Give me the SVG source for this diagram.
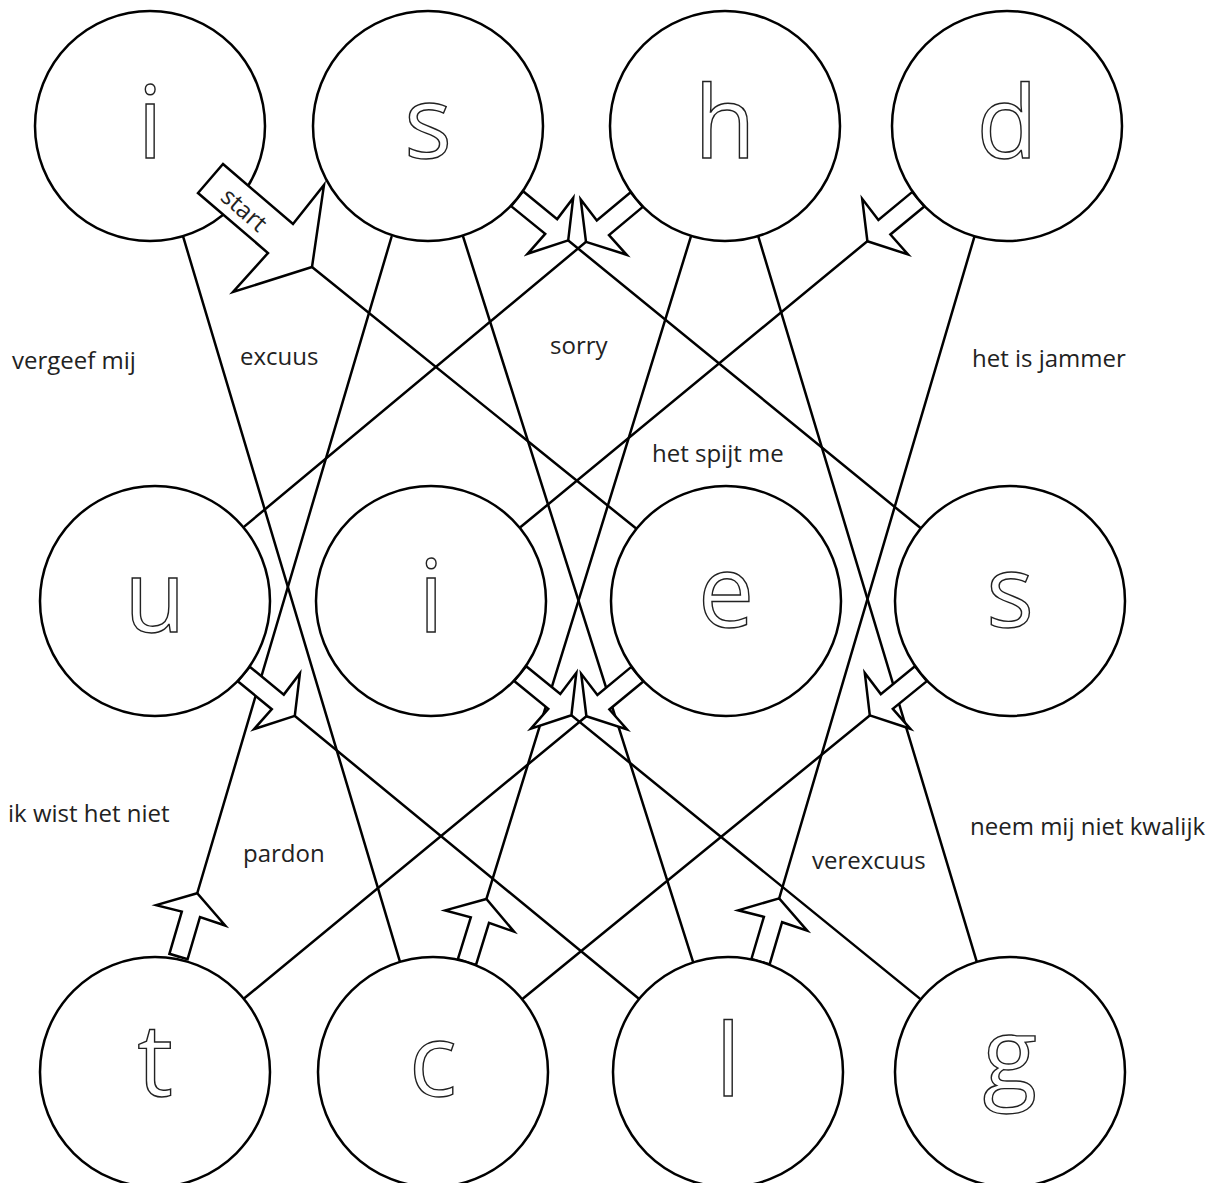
<svg xmlns="http://www.w3.org/2000/svg" width="1218" height="1183" viewBox="0 0 1218 1183">
<style>
.ln{stroke:#000;stroke-width:2.5;fill:none;stroke-linecap:round}
.ar{stroke:#000;stroke-width:2.5;fill:#fff;stroke-linejoin:miter}
.nd circle{stroke:#000;stroke-width:2.5;fill:#fff}
.lt{font-family:"Open Sans",sans-serif;font-size:100px;fill:#fff;stroke:#222;stroke-width:1.4;text-anchor:middle}
.lb{font-family:"Open Sans",sans-serif;font-size:24px;fill:#222}
.st{font-family:"Open Sans",sans-serif;font-size:24px;fill:#222;text-anchor:middle}
</style>
<rect width="1218" height="1183" fill="#fff"/>
<g id="connectors">
<line class="ln" x1="183" y1="236.2" x2="400" y2="961.8"/>
<line class="ln" x1="462.8" y1="235.6" x2="693.2" y2="962.4"/>
<line class="ln" x1="758.2" y1="236.1" x2="976.8" y2="961.9"/>
<line class="ln" x1="178.5" y1="956.5" x2="391.5" y2="237"/>
<line class="ln" x1="466.9" y1="962.1" x2="691.1" y2="235.9"/>
<line class="ln" x1="760.5" y1="961.7" x2="974.5" y2="236.3"/>
<line class="ln" x1="517.1" y1="198.7" x2="920.9" y2="528.3"/>
<line class="ln" x1="636.7" y1="199.6" x2="243.3" y2="527.4"/>
<line class="ln" x1="918.3" y1="199.2" x2="519.7" y2="527.8"/>
<line class="ln" x1="312" y1="267" x2="636.5" y2="528.8"/>
<line class="ln" x1="243.8" y1="674" x2="639.2" y2="999"/>
<line class="ln" x1="520.2" y1="673.6" x2="920.8" y2="999.4"/>
<line class="ln" x1="637.3" y1="674.2" x2="243.7" y2="998.8"/>
<line class="ln" x1="920.9" y1="673.7" x2="522.1" y2="999.3"/>
<polygon class="ar" points="169.4,953.8 181.8,911.6 156.2,905.1 197.2,893.2 225.2,925.5 200,917 187.6,959.2"/>
<polygon class="ar" points="457.8,959.3 470.8,917.3 445.2,910.4 486.4,899 514,931.6 489,922.9 476,964.9"/>
<polygon class="ar" points="751.4,959 763.9,916.8 738.2,910.3 779.2,898.4 807.2,930.7 782.1,922.2 769.6,964.4"/>
<polygon class="ar" points="523.1,191.3 557.2,219.1 573.2,198 568.2,240.4 527.6,253.8 545.2,233.9 511.1,206.1"/>
<polygon class="ar" points="642.8,206.9 609,235.1 626.7,254.8 586,241.9 580.7,199.4 596.8,220.5 630.6,192.3"/>
<polygon class="ar" points="924.3,206.5 890.4,234.5 908,254.4 867.4,241.2 862.2,198.8 878.4,219.9 912.3,191.9"/>
<polygon class="ar" points="249.8,666.7 283.8,694.6 299.9,673.5 294.8,715.9 254.1,729.1 271.8,709.2 237.8,681.3"/>
<polygon class="ar" points="526.2,666.2 560.3,694 576.3,672.8 571.4,715.2 530.9,728.6 548.3,708.8 514.2,681"/>
<polygon class="ar" points="643.3,681.5 609.4,709.5 627,729.4 586.4,716.2 581.2,673.8 597.4,694.9 631.3,666.9"/>
<polygon class="ar" points="926.9,681.1 892.8,708.9 910.4,728.8 869.8,715.4 864.8,673 880.8,694.1 914.9,666.3"/>
</g>
<g id="n-i1" class="nd"><circle cx="150" cy="126" r="115"/><text class="lt" x="150" y="158">i</text></g>
<g id="n-s1" class="nd"><circle cx="428" cy="126" r="115"/><text class="lt" x="428" y="158">s</text></g>
<g id="n-h" class="nd"><circle cx="725" cy="126" r="115"/><text class="lt" x="725" y="158">h</text></g>
<g id="n-d" class="nd"><circle cx="1007" cy="126" r="115"/><text class="lt" x="1007" y="158">d</text></g>
<g id="n-u" class="nd"><circle cx="155" cy="601" r="115"/><text class="lt" x="155" y="632">u</text></g>
<g id="n-i2" class="nd"><circle cx="431" cy="601" r="115"/><text class="lt" x="431" y="632">i</text></g>
<g id="n-e" class="nd"><circle cx="726" cy="601" r="115"/><text class="lt" x="726" y="627">e</text></g>
<g id="n-s2" class="nd"><circle cx="1010" cy="601" r="115"/><text class="lt" x="1010" y="627">s</text></g>
<g id="n-t" class="nd"><circle cx="155" cy="1072" r="115"/><text class="lt" x="155" y="1096">t</text></g>
<g id="n-c" class="nd"><circle cx="433" cy="1072" r="115"/><text class="lt" x="433" y="1096">c</text></g>
<g id="n-l" class="nd"><circle cx="728" cy="1072" r="115"/><text class="lt" x="728" y="1096">l</text></g>
<g id="n-g" class="nd"><circle cx="1010" cy="1072" r="115"/><text class="lt" x="1010" y="1090">g</text></g>
<g id="start">
<polygon class="ar" points="223,164 293,224 324,185 312,267 233,292 268,253 198,193"/>
<text class="st" transform="translate(244,210) rotate(41)" y="8">start</text>
</g>
<g id="labels">
<text class="lb" x="12" y="369">vergeef mij</text>
<text class="lb" x="240" y="365">excuus</text>
<text class="lb" x="550" y="354">sorry</text>
<text class="lb" x="652" y="462">het spijt me</text>
<text class="lb" x="972" y="367">het is jammer</text>
<text class="lb" x="8" y="822">ik wist het niet</text>
<text class="lb" x="243" y="862">pardon</text>
<text class="lb" x="812" y="869">verexcuus</text>
<text class="lb" x="970" y="835">neem mij niet kwalijk</text>
</g>
</svg>
